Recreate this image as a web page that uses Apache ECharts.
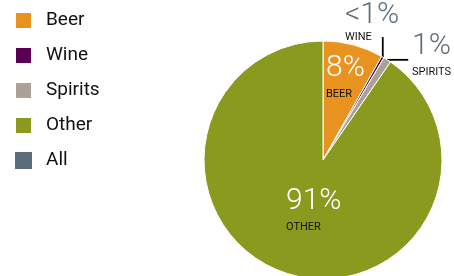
<!DOCTYPE html>
<html>
<head>
<meta charset="utf-8">
<script src="https://cdn.jsdelivr.net/npm/echarts@6/dist/echarts.min.js"></script>
<style>
  html, body { margin: 0; padding: 0; background: #fff; }
  #chart { width: 454px; height: 276px; }
</style>
</head>
<body>
<div id="chart"></div>
<script>
// drink shares
var categories = ['Beer', 'Wine', 'Spirits', 'Other', 'All'];
var shares = [8.2, 0.35, 1.05, 90.4, 0];
var pctText = ['8%', '<1%', '1%', '91%', ''];
var tagText = ['BEER', 'WINE', 'SPIRITS', 'OTHER', ''];
var colors = ['#E8921F', '#5A0052', '#ABA196', '#8A9A1F', '#5B6C7A'];

// where each label block goes (left/top of block)
var labelPos = {
  Beer: [326, 53],
  Wine: [345, 0],
  Spirits: [412, 31],
  Other: [286, 186]
};

var font = 'Roboto, "Liberation Sans", sans-serif';

var myChart = echarts.init(document.getElementById('chart'));

var pieData = [];
for (var i = 0; i < categories.length; i++) {
  var inside = (categories[i] == 'Beer' || categories[i] == 'Other');
  pieData.push({
    name: categories[i],
    value: shares[i],
    itemStyle: { color: colors[i], borderWidth: shares[i] > 0 ? 1 : 0 },
    label: {
      show: shares[i] > 0,
      formatter: '{big|' + pctText[i] + '}\n{small|' + tagText[i] + '}',
      rich: {
        big: {
          fontFamily: font,
          fontWeight: 300,
          fontSize: 30,
          lineHeight: 31,
          color: inside ? '#ffffff' : '#5E6E7C'
        },
        small: {
          fontFamily: font,
          fontSize: 11,
          lineHeight: categories[i] == 'Wine' ? 13 : 21,
          color: '#111111'
        }
      }
    },
    labelLine: {
      show: !inside && shares[i] > 0,
      lineStyle: { color: '#000', width: 1.8 }
    }
  });
}

var option = {
  animation: false,
  color: colors,
  legend: {
    orient: 'vertical',
    left: 14,
    top: 10,
    padding: 0,
    itemWidth: 17,
    itemHeight: 17,
    itemGap: 14,
    icon: 'rect',
    data: categories,
    textStyle: {
      fontFamily: font,
      fontSize: 19,
      lineHeight: 21,
      color: '#111',
      padding: [0, 0, 0, 9]
    }
  },
  series: [
    {
      type: 'pie',
      // wide box so the outside labels are not cut short
      left: 0,
      top: 0,
      width: 1000,
      height: 276,
      center: [323, 160],
      radius: 119,
      startAngle: 90,
      clockwise: true,
      itemStyle: { borderColor: '#ffffff' },
      label: { position: 'outside', align: 'left' },
      labelLine: { length: 10, length2: 10 },
      labelLayout: function (params) {
        var name = categories[params.dataIndex];
        var pos = labelPos[name];
        if (!pos) return {};
        var out = { x: pos[0], y: pos[1], align: 'left', verticalAlign: 'top' };
        var pts = params.labelLinePoints;
        if (pts && name == 'Wine') {
          var p0 = pts[0];
          out.labelLinePoints = [[p0[0], p0[1]], [p0[0], p0[1] - 20], [p0[0], p0[1] - 20]];
        } else if (pts && name == 'Spirits') {
          var q0 = pts[0];
          out.labelLinePoints = [[q0[0], q0[1]], [q0[0] + 21, q0[1]], [q0[0] + 21, q0[1]]];
        }
        return out;
      },
      data: pieData
    }
  ]
};
myChart.setOption(option);
</script>
</body>
</html>
